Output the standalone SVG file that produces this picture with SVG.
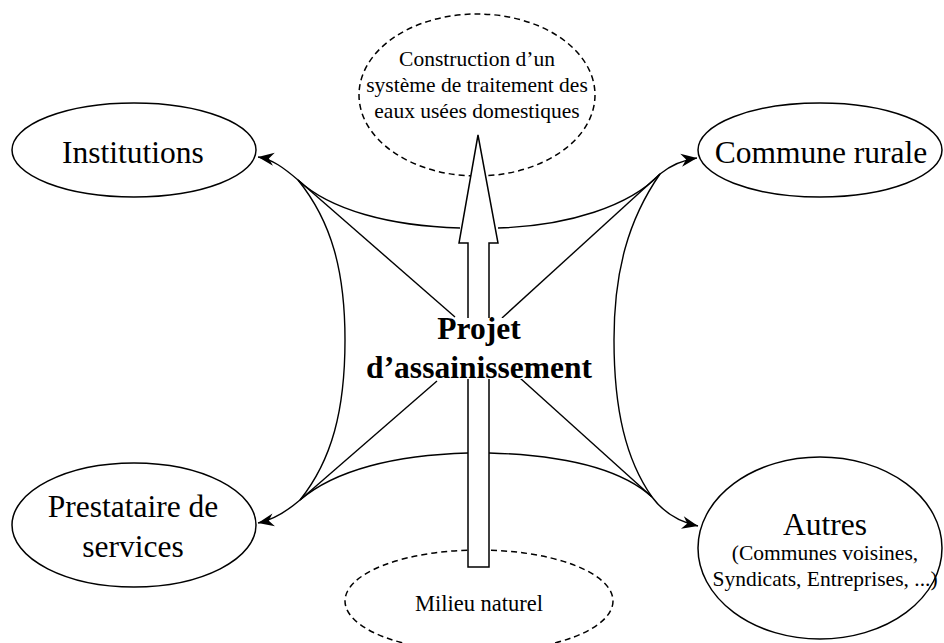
<svg xmlns="http://www.w3.org/2000/svg" width="944" height="643" viewBox="0 0 944 643">
<style>
.node{fill:#fff;stroke:#000;stroke-width:1.5}
.dash{fill:#fff;stroke:#000;stroke-width:1.5;stroke-dasharray:6 4}
.big{font-family:"Liberation Serif","Times New Roman",serif;font-size:31.5px;text-anchor:middle;fill:#000}
.small{font-family:"Liberation Serif","Times New Roman",serif;font-size:21.5px;text-anchor:middle;fill:#000}
.bold{font-family:"Liberation Serif","Times New Roman",serif;font-size:31.5px;font-weight:bold;text-anchor:middle;fill:#000}
.ln{fill:none;stroke:#000;stroke-width:1.4}
</style>
<defs>
<marker id="ah" markerUnits="userSpaceOnUse" viewBox="-17 -8 19 16" markerWidth="19" markerHeight="16" refX="0" refY="0" orient="auto">
<path d="M0,0 L-16,-6.5 L-11,0 L-16,6.5 Z" fill="#000"/>
</marker>
</defs>
<rect width="944" height="643" fill="#fff"/>

<g id="construction">
<ellipse class="dash" cx="477" cy="95" rx="118" ry="81"/>
<text class="small" x="477" y="66">Construction d’un</text>
<text class="small" x="477" y="92">système de traitement des</text>
<text class="small" x="477" y="118">eaux usées domestiques</text>
</g>

<g id="milieu">
<ellipse class="dash" cx="479" cy="601" rx="134" ry="51"/>
<text class="small" x="479" y="611" style="font-size:22.5px">Milieu naturel</text>
</g>

<g id="big-arrow">
<path d="M468,567 L468,243 L459,243 L478,135 L498,243 L489,243 L489,567 Z" fill="#fff" stroke="#000" stroke-width="1.5"/>
</g>

<g id="connectors">
<path class="ln" d="M460,228 C390,226 330,210 298,180"/>
<path class="ln" d="M455,317 L298,180"/>
<path class="ln" d="M298,180 C332,222 345,272 345,340 C345,410 332,460 300,500"/>
<path class="ln" d="M468,453 C395,455 335,470 300,500"/>
<path class="ln" d="M437,381 L300,500"/>
<path class="ln" d="M498,228 C568,226 630,206 660,174"/>
<path class="ln" d="M502,318 L660,174"/>
<path class="ln" d="M660,174 C628,220 614,272 614,340 C614,410 626,460 652,497"/>
<path class="ln" d="M489,453 C560,455 620,468 652,497"/>
<path class="ln" d="M520,378 L652,497"/>
<path class="ln" marker-end="url(#ah)" d="M298,180 C284,168 272,159 258,157"/>
<path class="ln" marker-end="url(#ah)" d="M300,500 C286,512 273,520 258,523"/>
<path class="ln" marker-end="url(#ah)" d="M660,174 C671,165 683,160 697,158"/>
<path class="ln" marker-end="url(#ah)" d="M652,497 C663,512 680,522 698,526"/>
</g>

<g id="projet">
<rect x="365" y="318" width="230" height="61" fill="#fff"/>
<text class="bold" x="479" y="339">Projet</text>
<text class="bold" x="479" y="378">d’assainissement</text>
</g>

<g id="institutions">
<ellipse class="node" cx="134" cy="150" rx="122" ry="47"/>
<text class="big" x="133" y="163">Institutions</text>
</g>

<g id="commune">
<ellipse class="node" cx="820" cy="150" rx="122" ry="47"/>
<text class="big" x="821" y="163">Commune rurale</text>
</g>

<g id="prestataire">
<ellipse class="node" cx="134" cy="525" rx="122" ry="62"/>
<text class="big" x="133" y="517">Prestataire de</text>
<text class="big" x="133" y="557">services</text>
</g>

<g id="autres">
<ellipse class="node" cx="820" cy="548" rx="122" ry="91"/>
<text class="big" x="825" y="535">Autres</text>
<text class="small" x="825" y="560">(Communes voisines,</text>
<text class="small" x="825" y="586">Syndicats, Entreprises, ...)</text>
</g>
</svg>
